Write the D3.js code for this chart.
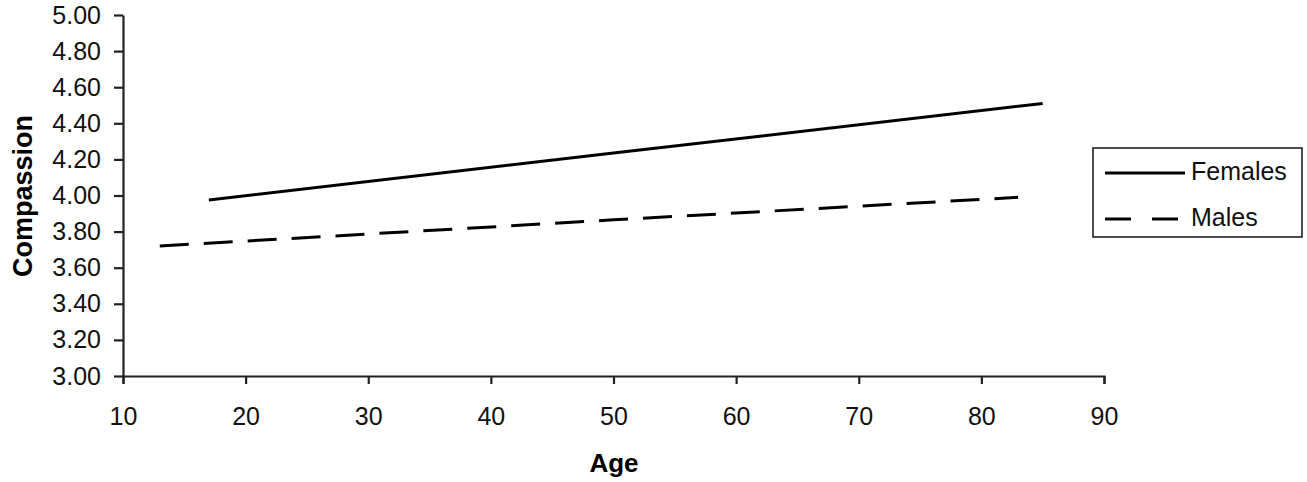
<!DOCTYPE html>
<html>
<head>
<meta charset="utf-8">
<script src="https://cdn.jsdelivr.net/npm/d3@7"></script>
<style>
  html, body { margin: 0; padding: 0; background: #fff; }
  svg { display: block; }
</style>
</head>
<body>
<svg id="chart" width="1307" height="482"></svg>
<script>
// ---- data ----
const seriesNames = ["Females", "Males"];
const femalesAge = [17, 50, 85];
const femalesValue = [3.975, 4.235, 4.51];
const malesAge = [13, 50, 83];
const malesValue = [3.72, 3.865, 3.99];
const xTicks = [10, 20, 30, 40, 50, 60, 70, 80, 90];
const yTicks = [3.0, 3.2, 3.4, 3.6, 3.8, 4.0, 4.2, 4.4, 4.6, 4.8, 5.0];

const svg = d3.select("#chart");
const font = "'Liberation Sans', Arial, sans-serif";

const x = d3.scaleLinear().domain([10, 90]).range([123, 1104]);
const y = d3.scaleLinear().domain([3, 5]).range([376, 15]);

// axes
const xAxis = svg.append("g")
  .attr("transform", `translate(0,${y(3)})`)
  .call(d3.axisBottom(x).tickValues(xTicks).tickSize(8).tickSizeOuter(8).tickPadding(23).tickFormat(d3.format("d")));
const yAxis = svg.append("g")
  .attr("transform", `translate(${x(10)},0)`)
  .call(d3.axisLeft(y).tickValues(yTicks).tickSize(9).tickSizeOuter(0).tickPadding(13).tickFormat(d3.format(".2f")));

[xAxis, yAxis].forEach(g => {
  g.select(".domain").attr("stroke", "#222").attr("stroke-width", 2.2);
  g.selectAll(".tick line").attr("stroke", "#222").attr("stroke-width", 2.2);
  g.selectAll(".tick text").attr("fill", "#111").style("font-family", font).style("font-size", "25px");
});

// lines
const line = d3.line().x(d => x(d[0])).y(d => y(d[1]));
const fem = femalesAge.map((a, i) => [a, femalesValue[i]]);
const mal = malesAge.map((a, i) => [a, malesValue[i]]);

svg.append("path").datum(fem).attr("d", line)
  .attr("fill", "none").attr("stroke", "#000").attr("stroke-width", 3);
svg.append("path").datum(mal).attr("d", line)
  .attr("fill", "none").attr("stroke", "#000").attr("stroke-width", 3)
  .attr("stroke-dasharray", "29,15");

// axis titles
svg.append("text")
  .attr("x", 614).attr("y", 472)
  .attr("text-anchor", "middle")
  .style("font-family", font).style("font-size", "26px").style("font-weight", "bold")
  .text("Age");
svg.append("text")
  .attr("transform", "translate(32,196) rotate(-90)")
  .attr("text-anchor", "middle")
  .style("font-family", font).style("font-size", "27px").style("font-weight", "bold")
  .text("Compassion");

// legend
const lg = svg.append("g");
lg.append("rect")
  .attr("x", 1093).attr("y", 148).attr("width", 209).attr("height", 89)
  .attr("fill", "#fff").attr("stroke", "#222").attr("stroke-width", 1.6);
const legendY = [173, 219];
const dashes = [null, "26,21"];
seriesNames.forEach((name, i) => {
  lg.append("line")
    .attr("x1", 1105).attr("x2", 1185)
    .attr("y1", legendY[i]).attr("y2", legendY[i])
    .attr("stroke", "#000").attr("stroke-width", 3)
    .attr("stroke-dasharray", dashes[i]);
  lg.append("text")
    .attr("x", 1191).attr("y", legendY[i] + 7)
    .style("font-family", font).style("font-size", "25px").attr("fill", "#111")
    .text(name);
});
</script>
</body>
</html>
